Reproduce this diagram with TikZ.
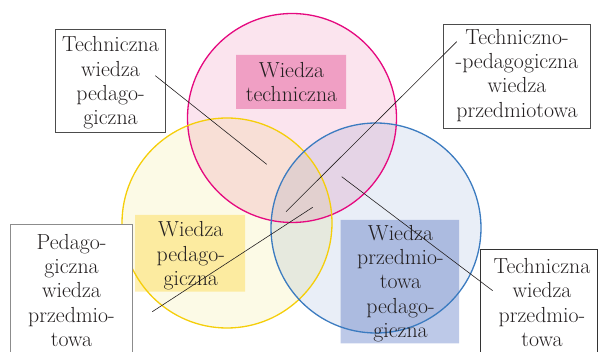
\documentclass[tikz,border=0pt]{standalone}
\usepackage{fontspec}
\definecolor{pinkline}{RGB}{229,9,127}
\definecolor{yellowline}{RGB}{245,206,10}
\definecolor{blueline}{RGB}{59,123,192}
\definecolor{pinkfill}{RGB}{251,228,238}
\definecolor{yellowfill}{RGB}{252,250,230}
\definecolor{bluefill}{RGB}{233,238,247}
\definecolor{pinkbox}{RGB}{244,178,210}
\definecolor{yellowbox}{RGB}{255,240,178}
\definecolor{bluebox}{RGB}{189,201,232}
\definecolor{ink}{RGB}{35,31,32}
\tikzset{
  lbl/.style={align=center, inner sep=0pt, anchor=north, text=ink,
    font=\fontsize{21.8}{24.3}\selectfont},
  obox/.style={draw=#1, line width=0.9pt, fill=white},
  conn/.style={draw=ink, line width=0.6pt},
  ring/.style={line width=1.3pt},
}
\newcommand{\fst}{\rule{0pt}{16pt}}
\begin{document}
\begin{tikzpicture}[x=1pt,y=-1pt]
\useasboundingbox (0,0) rectangle (598,352);
\clip (0,0) rectangle (598,352);
% fills, multiplied
\begin{scope}[blend group=multiply]
  \fill[pinkfill] (292,118) circle (104.5pt);
  \fill[yellowfill] (227,223) circle (105pt);
  \fill[bluefill] (376,228) circle (105pt);
  \fill[pinkbox] (236,55) rectangle (346,109);
  \fill[yellowbox] (135,215) rectangle (245,291.7);
  \fill[bluebox] (340.7,220) rectangle (459,343.3);
\end{scope}
% outlines
\draw[ring, pinkline] (292,118) circle (104.5pt);
\draw[ring, yellowline] (227,223) circle (105pt);
\draw[ring, blueline] (376,228) circle (105pt);
% inner labels
\node[lbl] (wt) at (291.5,61.3) {\fst Wiedza\\techniczna};
\node[lbl] (wp) at (190.8,220.7) {\fst Wiedza\\pedago-\\giczna};
\node[lbl] (wpp) at (400.5,224) {\fst Wiedza\\przedmio-\\towa\\pedago-\\giczna};
% outer boxes
\draw[obox=black!70] (55,29) rectangle (165.7,132.3);
\draw[obox=black!70] (443.3,24) rectangle (590,128.3);
\draw[obox=black!45] (10.7,224) rectangle (132.7,360);
\draw[obox=black!80] (480.3,249) rectangle (597.4,360);
\node[lbl] (twp) at (110.5,35.7) {\fst Techniczna\\wiedza\\pedago-\\giczna};
\node[lbl] (tpwp) at (517,28) {\fst Techniczno-\\-pedagogiczna\\wiedza\\przedmiotowa};
\node[lbl] (pwp) at (71.5,233) {\fst Pedago-\\giczna\\wiedza\\przedmio-\\towa};
\node[lbl] (twpr) at (542,257.3) {\fst Techniczna\\wiedza\\przedmio-\\towa};
% connectors
\coordinate (c1s) at (155.3,75.7);  \coordinate (c1e) at (266.7,164.3);
\coordinate (c2s) at (456.7,41.7);  \coordinate (c2e) at (286,211.7);
\coordinate (c3s) at (152.3,311.7); \coordinate (c3e) at (312.7,207.3);
\coordinate (c4s) at (341.7,176.7); \coordinate (c4e) at (492.7,290.7);
\draw[conn] (c1s) -- (c1e);
\draw[conn] (c2s) -- (c2e);
\draw[conn] (c3s) -- (c3e);
\draw[conn] (c4s) -- (c4e);
\end{tikzpicture}
\end{document}
